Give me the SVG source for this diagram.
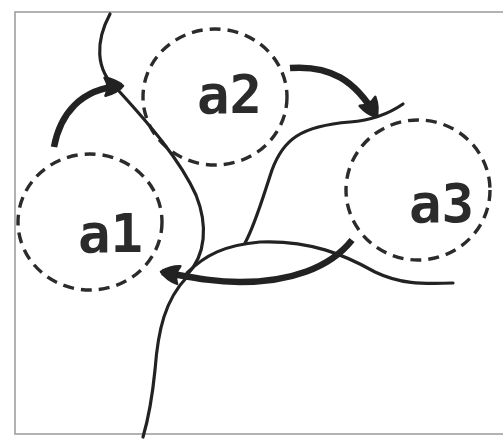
<svg xmlns="http://www.w3.org/2000/svg" width="503" height="441" viewBox="0 0 503 441">
<style>
.node ellipse{fill:none;stroke:#2b2b2b;stroke-width:3.4;stroke-dasharray:11 7}
.node text{font-family:"DejaVu Sans Mono","Liberation Mono",monospace;font-weight:bold;font-size:54px;fill:#2b2b2b}
.thin{fill:none;stroke:#222;stroke-width:3.2;stroke-linecap:round}
.thick{fill:none;stroke:#222;stroke-width:6.5;stroke-linecap:butt}
</style>
<defs>
<marker id="ah" markerUnits="userSpaceOnUse" viewBox="0 0 24 22" refX="20" refY="11" markerWidth="24" markerHeight="22" orient="auto">
<path d="M3,2 Q14,4 21,11 Q14,18 3,20 Q8,11 3,2 Z" fill="#222" stroke="#222" stroke-width="2.5" stroke-linejoin="round"/>
</marker>
</defs>
<rect x="15" y="12" width="600" height="422" fill="#fff" stroke="#999" stroke-width="1.5"/>
<g id="a1" class="node"><ellipse cx="90" cy="222" rx="72" ry="68"/><text x="78" y="252">a1</text></g>
<g id="a2" class="node"><ellipse cx="215" cy="97" rx="72" ry="68"/><text x="197" y="113">a2</text></g>
<g id="a3" class="node"><ellipse cx="418" cy="190" rx="72" ry="70"/><text x="409" y="222">a3</text></g>
<g id="connectors">
<path class="thin" d="M110,14 C96,40 94,70 118,90 C150,125 180,160 196,195 C208,225 206,255 187,275"/>
<path class="thin" d="M403,104 C390,113 375,120 350,122 C300,126 283,140 272,170 C262,200 255,225 245,243"/>
<path class="thin" d="M187,273 C205,255 225,245 260,242 C310,240 345,255 375,272 C400,284 420,284 453,283"/>
<path class="thin" d="M187,277 C165,300 158,330 155,370 C152,400 148,420 143,437"/>
<path class="thick" d="M54,147 C60,115 80,88 122,86" marker-end="url(#ah)"/>
<path class="thick" d="M290,68 C330,65 355,80 376,116" marker-end="url(#ah)"/>
<path class="thick" d="M352,240 C330,268 290,282 240,282 C215,282 195,278 162,272" marker-end="url(#ah)"/>
</g>
</svg>
